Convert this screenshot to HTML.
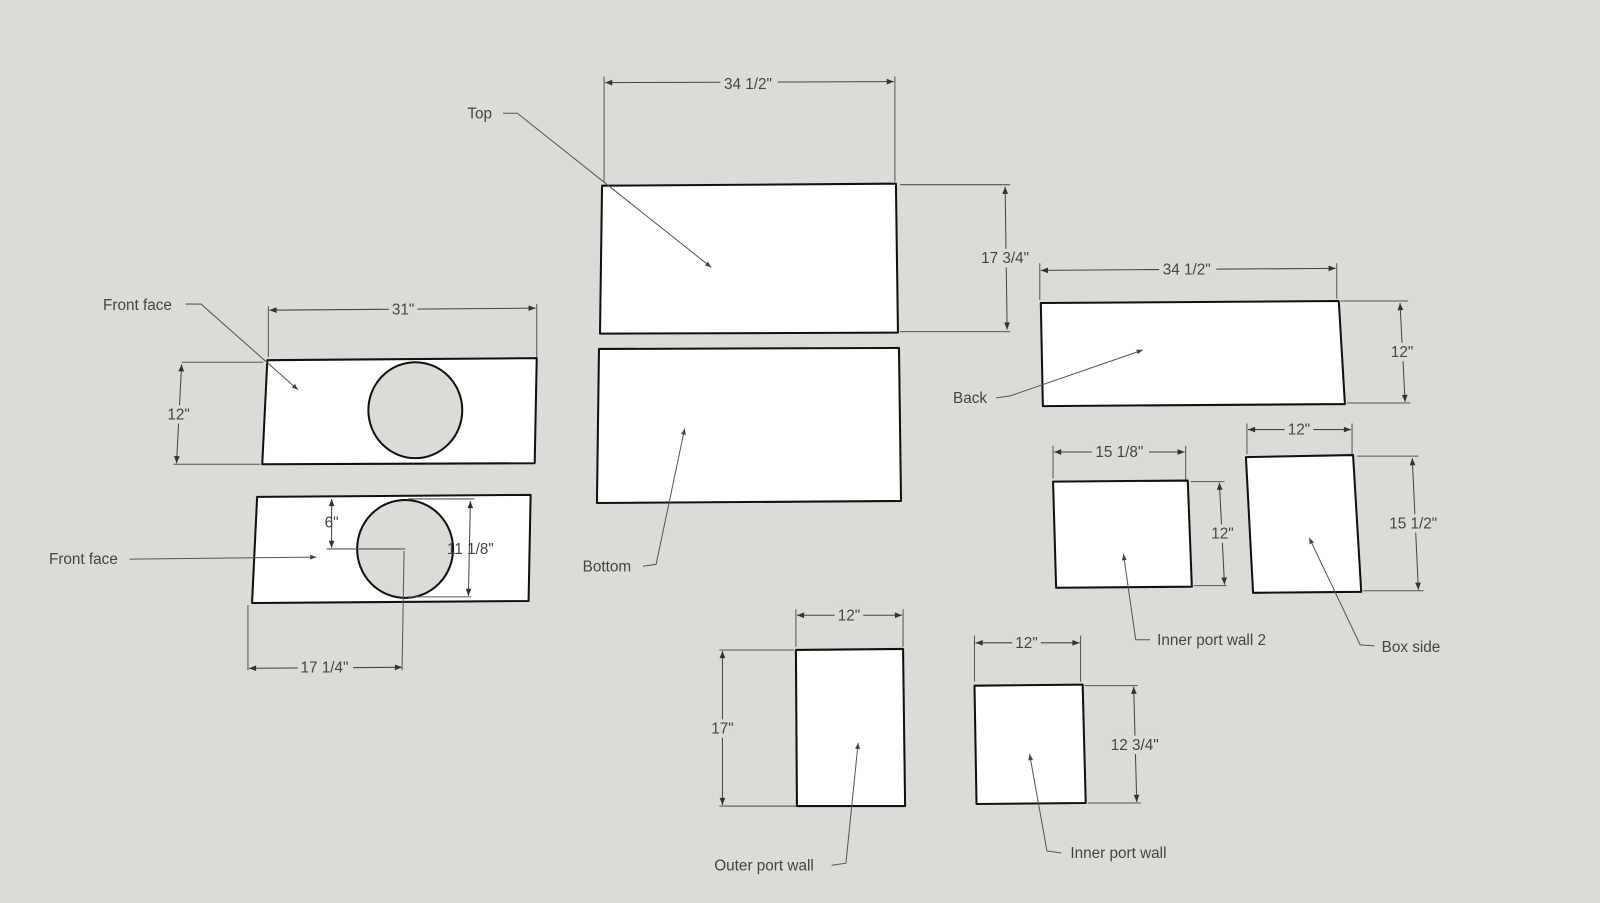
<!DOCTYPE html>
<html><head><meta charset="utf-8"><style>
html,body{margin:0;padding:0;background:#dcdbd7;}
svg{display:block}
text{font-family:"Liberation Sans",sans-serif;font-size:15px;fill:#444;}
</style></head><body>
<svg width="1600" height="903" viewBox="0 0 1568 885" preserveAspectRatio="none" xmlns="http://www.w3.org/2000/svg">
<defs>
<marker id="a" viewBox="0 0 10 10" refX="10" refY="5" markerWidth="9" markerHeight="7" orient="auto-start-reverse" markerUnits="userSpaceOnUse"><path d="M0,1 L10,5 L0,9 Z" fill="#333"/></marker>
<marker id="s" viewBox="0 0 10 10" refX="10" refY="5" markerWidth="8" markerHeight="6" orient="auto" markerUnits="userSpaceOnUse"><path d="M0,1 L10,5 L0,9 Z" fill="#444"/></marker>
</defs>
<rect width="1568" height="885" fill="#dcdbd7"/>
<g fill="#fff" stroke="#111" stroke-width="2" stroke-linejoin="round">
<polygon points="590,182 878,180 880,326 588,327"/>
<polygon points="587,342 881,341 883,491 585,493"/>
<polygon points="1020,297 1312,295 1318,396 1022,398"/>
<polygon points="262,353 526,351 524,454 257,455"/>
<polygon points="252,487 520,485 518,589 247,591"/>
<polygon points="1032,472 1164,471 1168,575 1035,576"/>
<polygon points="1221,448 1326,446 1334,580 1228,581"/>
<polygon points="780,637 885,636 887,790 781,790"/>
<polygon points="955,672 1061,671 1064,787 957,788"/>
</g>
<g fill="#dcdbd7" stroke="#111" stroke-width="2">
<ellipse cx="407" cy="402" rx="46" ry="47"/>
<ellipse cx="397" cy="538" rx="47" ry="48"/>
</g>
<g stroke="#555" stroke-width="1" fill="none">
<!-- extension lines -->
<path d="M592,75V178 M877,75V178 M882,181H990 M882,325H990
M1019,258V294 M1310,258V293 M1314,295H1380 M1320,395H1382
M263,300V350 M526,298V350 M178,355H258 M170,455H255
M320,538H397 M400,489H465 M400,585H462
M243,593V657 M396,540L394,657
M1032,437V469 M1162,437V470 M1167,472H1200 M1170,574H1202
M1222,415V445 M1325,415V445 M1330,447H1390 M1336,579H1395
M780,597V634 M885,597V634 M705,637H778 M705,790H780
M955,623V668 M1059,623V668 M1063,672H1115 M1066,787H1118"/>
</g>
<g stroke="#444" stroke-width="1" fill="none" marker-start="url(#a)" marker-end="url(#a)">
<line x1="593" y1="81" x2="876" y2="80"/>
<line x1="985" y1="183" x2="987" y2="323"/>
<line x1="1020" y1="265" x2="1309" y2="263"/>
<line x1="1372" y1="297" x2="1377" y2="394"/>
<line x1="264" y1="304" x2="525" y2="302"/>
<line x1="178" y1="357" x2="173" y2="454"/>
<line x1="325" y1="489" x2="325" y2="537"/>
<line x1="461" y1="491" x2="459" y2="584"/>
<line x1="244" y1="655" x2="394" y2="654"/>
<line x1="1033" y1="443" x2="1161" y2="443"/>
<line x1="1195" y1="473" x2="1200" y2="573"/>
<line x1="1223" y1="421" x2="1324" y2="421"/>
<line x1="1384" y1="449" x2="1390" y2="578"/>
<line x1="781" y1="603" x2="884" y2="603"/>
<line x1="708" y1="638" x2="708" y2="789"/>
<line x1="956" y1="630" x2="1058" y2="630"/>
<line x1="1111" y1="673" x2="1114" y2="786"/>
</g>
<!-- label backgrounds for dimension text -->
<g fill="#dcdbd7">
<rect x="706" y="72" width="56" height="18"/>
<rect x="958" y="244" width="54" height="18"/>
<rect x="1136" y="255" width="56" height="18"/>
<rect x="1362" y="336" width="26" height="18"/>
<rect x="381" y="294" width="28" height="18"/>
<rect x="162" y="397" width="26" height="18"/>
<rect x="292" y="645" width="54" height="18"/>
<rect x="1070" y="434" width="56" height="18"/>
<rect x="1186" y="514" width="26" height="18"/>
<rect x="1259" y="412" width="28" height="18"/>
<rect x="1358" y="504" width="54" height="18"/>
<rect x="818" y="594" width="28" height="18"/>
<rect x="695" y="705" width="26" height="18"/>
<rect x="992" y="621" width="28" height="18"/>
<rect x="1086" y="721" width="54" height="18"/>
</g>
<g text-anchor="middle">
<text x="733" y="87">34 1/2"</text>
<text x="985" y="258">17 3/4"</text>
<text x="1163" y="269">34 1/2"</text>
<text x="1374" y="350">12"</text>
<text x="395" y="308">31"</text>
<text x="175" y="411">12"</text>
<text x="325" y="517">6"</text>
<text x="461" y="543">11 1/8"</text>
<text x="318" y="659">17 1/4"</text>
<text x="1097" y="448">15 1/8"</text>
<text x="1198" y="528">12"</text>
<text x="1273" y="426">12"</text>
<text x="1385" y="518">15 1/2"</text>
<text x="832" y="608">12"</text>
<text x="708" y="719">17"</text>
<text x="1006" y="635">12"</text>
<text x="1112" y="735">12 3/4"</text>
</g>
<g stroke="#555" stroke-width="1" fill="none" marker-end="url(#s)">
<polyline points="493,111 507,111 697,262"/>
<polyline points="182,298 197,298 292,382"/>
<polyline points="976,390 990,388 1120,343"/>
<polyline points="630,555 643,553 671,420"/>
<polyline points="127,548 310,546"/>
<polyline points="1127,627 1113,627 1101,543"/>
<polyline points="1347,633 1333,632 1283,527"/>
<polyline points="815,848 829,846 841,728"/>
<polyline points="1040,836 1026,834 1009,739"/>
</g>
<g>
<text x="458" y="116">Top</text>
<text x="101" y="304">Front face</text>
<text x="934" y="395">Back</text>
<text x="571" y="560">Bottom</text>
<text x="48" y="553">Front face</text>
<text x="1134" y="632">Inner port wall 2</text>
<text x="1354" y="639">Box side</text>
<text x="700" y="853">Outer port wall</text>
<text x="1049" y="841">Inner port wall</text>
</g>
</svg>
</body></html>
